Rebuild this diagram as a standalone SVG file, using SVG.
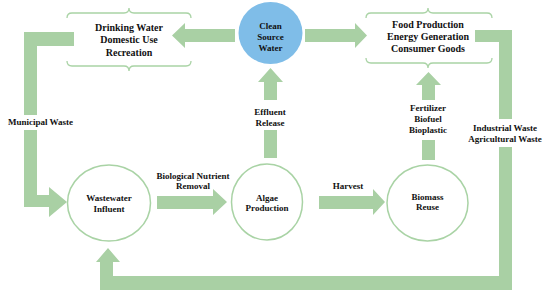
<svg xmlns="http://www.w3.org/2000/svg" width="550" height="298" viewBox="0 0 550 298">
<style>
.t{font-family:"Liberation Serif","Times New Roman",serif;font-weight:bold;fill:#111;text-anchor:middle}
.big{font-size:10px}
.sm{font-size:9px}
.arr{fill:#a9d0a4}
.node{fill:#fff;stroke:#a9d3a5;stroke-width:1.5}
.brace{fill:none;stroke:#a9d3a5;stroke-width:1.3}
</style>
<rect width="550" height="298" fill="#fff"/>
<g id="connectors">
<path class="arr" d="M74 32 H24 V115 H37 V46 H74 Z"/>
<path class="arr" d="M24 130 V207 H49 V217 L67 202 L49 187 V195 H37 V130 Z"/>
<path class="arr" d="M475 30 H512 V119 H499 V42 H475 Z"/>
<path class="arr" d="M499 147 H512 V290 H100 V262 H96 L108 248 L120 262 H113 V276 H499 Z"/>
<path class="arr" d="M235 29 H185 V23 L172 35.5 L185 48 V42 H235 Z"/>
<path class="arr" d="M305 29 H355 V23 L367 35.5 L355 48 V42 H305 Z"/>
<path class="arr" d="M264 100 V82 H258 L270.5 68 L283 82 H277 V100 Z"/>
<rect class="arr" x="264" y="130" width="13" height="28"/>
<path class="arr" d="M422 100 V85 H416 L428.5 72 L441 85 H435 V100 Z"/>
<rect class="arr" x="422" y="140" width="13" height="20"/>
<path class="arr" d="M157 196 H213 V189 L227 202 L213 215 V209 H157 Z"/>
<path class="arr" d="M319 196 H373 V189 L385 202 L373 215 V209 H319 Z"/>
<text class="t sm" x="40.5" y="125">Municipal Waste</text>
<text class="t sm" x="270" y="115">Effluent</text>
<text class="t sm" x="270" y="126">Release</text>
<text class="t sm" x="428" y="111">Fertilizer</text>
<text class="t sm" x="428" y="122">Biofuel</text>
<text class="t sm" x="428" y="133">Bioplastic</text>
<text class="t sm" x="505" y="131">Industrial Waste</text>
<text class="t sm" x="505" y="142">Agricultural Waste</text>
<text class="t sm" x="193" y="179">Biological Nutrient</text>
<text class="t sm" x="193" y="189">Removal</text>
<text class="t sm" x="348" y="189">Harvest</text>
</g>
<g id="uses">
<path class="brace" d="M67 18 Q67 13 72 13 L124 13 Q129 13 129 8 Q129 13 134 13 L186 13 Q191 13 191 18"/>
<path class="brace" d="M67 61 Q67 66 72 66 L124 66 Q129 66 129 71 Q129 66 134 66 L186 66 Q191 66 191 61"/>
<text class="t big" x="129" y="30.5">Drinking Water</text>
<text class="t big" x="129" y="43">Domestic Use</text>
<text class="t big" x="129" y="55.5">Recreation</text>
</g>
<g id="products">
<path class="brace" d="M366 18 Q366 13 371 13 L423 13 Q428 13 428 8 Q428 13 433 13 L487 13 Q492 13 492 18"/>
<path class="brace" d="M366 58 Q366 63 371 63 L423 63 Q428 63 428 68 Q428 63 433 63 L487 63 Q492 63 492 58"/>
<text class="t big" x="428" y="27.5">Food Production</text>
<text class="t big" x="428" y="39.5">Energy Generation</text>
<text class="t big" x="428" y="51.5">Consumer Goods</text>
</g>
<g id="clean">
<ellipse cx="270.5" cy="33" rx="32" ry="31" fill="#7fbde8"/>
<text class="t sm" x="270.5" y="29">Clean</text>
<text class="t sm" x="270.5" y="40">Source</text>
<text class="t sm" x="270.5" y="51">Water</text>
</g>
<g id="wastewater">
<ellipse class="node" cx="109" cy="203" rx="41.5" ry="38"/>
<text class="t sm" x="109" y="201">Wastewater</text>
<text class="t sm" x="109" y="212">Influent</text>
</g>
<g id="algae">
<ellipse class="node" cx="267" cy="202" rx="35.5" ry="38"/>
<text class="t sm" x="267" y="201">Algae</text>
<text class="t sm" x="267" y="211">Production</text>
</g>
<g id="biomass">
<ellipse class="node" cx="427.5" cy="203" rx="40.5" ry="38"/>
<text class="t sm" x="427.5" y="200">Biomass</text>
<text class="t sm" x="427.5" y="210">Reuse</text>
</g>
</svg>
